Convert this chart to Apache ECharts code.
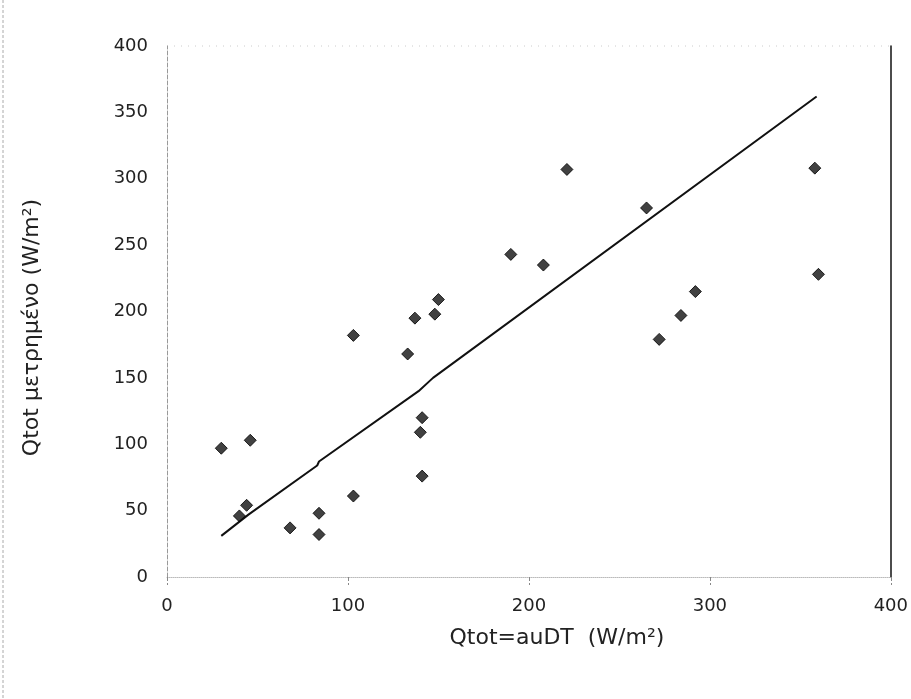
<!DOCTYPE html>
<html>
<head>
<meta charset="utf-8">
<script src="https://cdn.jsdelivr.net/npm/echarts@6/dist/echarts.min.js"></script>
<style>
  html, body { margin: 0; padding: 0; background: #fff; }
  #chart { width: 911px; height: 699px; }
</style>
</head>
<body>
<div id="chart"></div>
<script>
// measured points: x = Qtot=auDT, y = Qtot measured
var pointsX = [30, 46, 44, 40, 68, 84, 84, 103, 141, 140, 141,
               103, 133, 137, 148, 150, 190, 208, 221,
               265, 272, 284, 292, 358, 360];
var pointsY = [97, 103, 54, 46, 37, 48, 32, 61, 120, 109, 76,
               182, 168, 195, 198, 209, 243, 235, 307,
               278, 179, 197, 215, 308, 228];

// fitted line as drawn
var fitX = [30, 45, 83, 84, 139, 147, 359];
var fitY = [31, 47, 84, 87, 140, 150, 362];

var xTicks = [0, 100, 200, 300, 400];
var yTicks = [0, 50, 100, 150, 200, 250, 300, 350, 400];

var scatterData = pointsX.map((x, i) => [x, pointsY[i]]);
var fitData = fitX.map((x, i) => [x, fitY[i]]);

var chart = echarts.init(document.getElementById('chart'));
chart.setOption({
    animation: false,
    backgroundColor: '#fff',
    grid: { left: 167, right: 18, top: 46, bottom: 122 },
    xAxis: {
        type: 'value',
        min: xTicks[0],
        max: xTicks[xTicks.length - 1],
        interval: 100,
        name: 'Qtot=auDT  (W/m²)',
        nameLocation: 'middle',
        nameGap: 50,
        nameTextStyle: { fontFamily: 'DejaVu Sans', fontSize: 22, color: '#222', padding: [0, 0, 0, 56] },
        axisLine: { show: true, onZero: false, lineStyle: { color: '#bbb', type: 'dotted', width: 1 } },
        axisTick: { show: true, inside: false, length: 8, lineStyle: { color: '#888', type: 'dashed' } },
        axisLabel: { fontFamily: 'DejaVu Sans', fontSize: 18, color: '#222', margin: 20 },
        splitLine: { show: false }
    },
    yAxis: [
        {
            type: 'value',
            min: yTicks[0],
            max: yTicks[yTicks.length - 1],
            interval: 50,
            name: 'Qtot μετρημένο (W/m²)',
            nameLocation: 'middle',
            nameGap: 124,
            nameTextStyle: { fontFamily: 'DejaVu Sans', fontSize: 22, color: '#222', padding: [0, 32, 0, 0] },
            axisLine: { show: true, onZero: false, lineStyle: { color: '#999', type: 'dashed', width: 1 } },
            axisTick: { show: false },
            axisLabel: { fontFamily: 'DejaVu Sans', fontSize: 18, color: '#222', margin: 19 },
            splitLine: { show: false }
        },
        {
            type: 'value',
            position: 'right',
            min: 0,
            max: 400,
            interval: 50,
            axisLine: { show: true, onZero: false, lineStyle: { color: '#111', width: 1.5 } },
            axisTick: { show: false },
            axisLabel: { show: false },
            splitLine: { show: false }
        }
    ],
    graphic: [
        {
            type: 'line',
            shape: { x1: 3, y1: 0, x2: 3, y2: 699 },
            style: { stroke: '#aaa', lineWidth: 1, lineDash: [3, 2] }
        },
        {
            type: 'line',
            shape: { x1: 167, y1: 46, x2: 893, y2: 46 },
            style: { stroke: '#ccc', lineWidth: 1, lineDash: [1, 6] }
        }
    ],
    series: [
        {
            type: 'line',
            data: fitData,
            showSymbol: false,
            lineStyle: { color: '#111', width: 2 },
            z: 2
        },
        {
            type: 'scatter',
            data: scatterData,
            symbol: 'diamond',
            symbolSize: 12,
            itemStyle: { color: '#111', borderColor: '#000', borderWidth: 1 },
            z: 3
        }
    ]
});
</script>
</body>
</html>
